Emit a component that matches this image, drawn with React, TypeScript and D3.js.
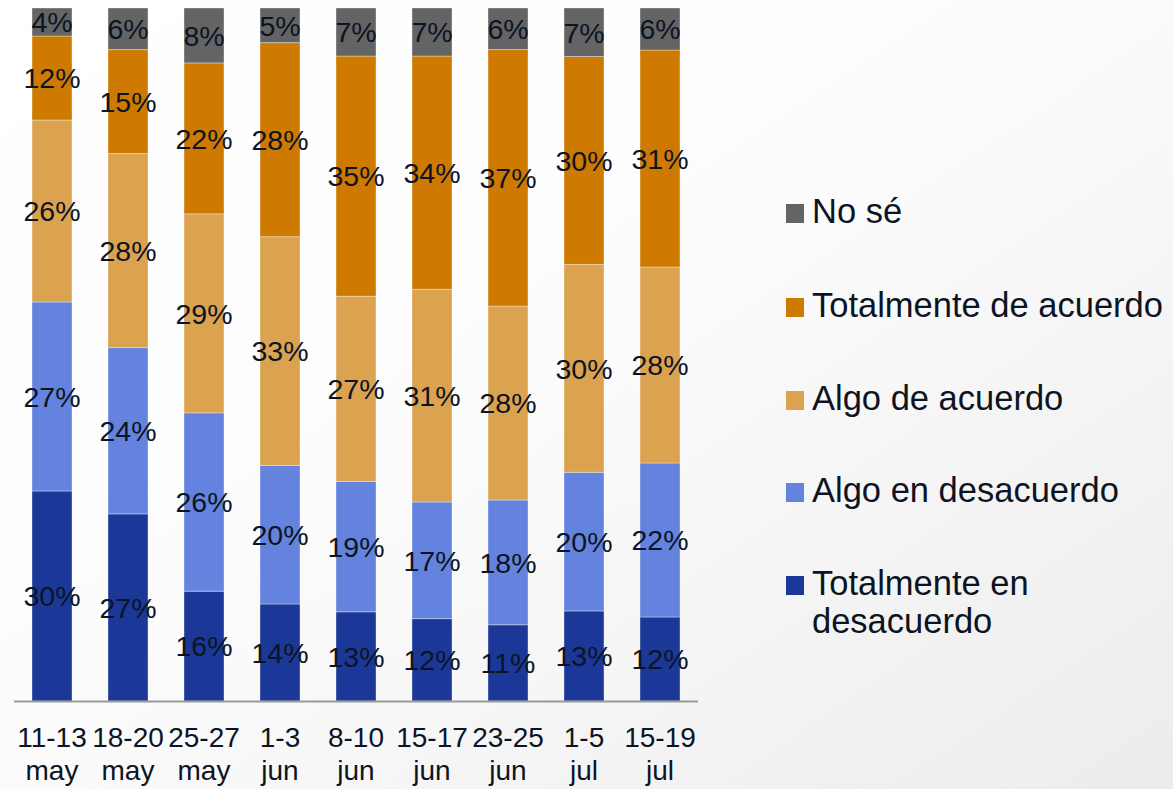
import React from "react";
import * as d3 from "d3";

const categories = ["11-13 may", "18-20 may", "25-27 may", "1-3 jun", "8-10 jun", "15-17 jun", "23-25 jun", "1-5 jul", "15-19 jul"];
const seriesNames = ["Totalmente en desacuerdo", "Algo en desacuerdo", "Algo de acuerdo", "Totalmente de acuerdo", "No sé"];
const totalDesacuerdo = [30, 27, 16, 14, 13, 12, 11, 13, 12];
const algoDesacuerdo = [27, 24, 26, 20, 19, 17, 18, 20, 22];
const algoAcuerdo = [26, 28, 29, 33, 27, 31, 28, 30, 28];
const totalAcuerdo = [12, 15, 22, 28, 35, 34, 37, 30, 31];
const noSe = [4, 6, 8, 5, 7, 7, 6, 7, 6];
const colors = ["#1B3899", "#6483DE", "#DBA24F", "#CE7A00", "#646464"];

const W = 1173, H = 789;
const FONT = "Liberation Sans, Arial, sans-serif";
const TEXT = "#0c1424";

export default function App() {
  const seriesValues = [totalDesacuerdo, algoDesacuerdo, algoAcuerdo, totalAcuerdo, noSe];
  const rows = categories.map((c, i) => {
    const r: any = { cat: c };
    seriesNames.forEach((s, k) => (r[s] = seriesValues[k][i]));
    return r;
  });
  const stack = d3.stack<any>().keys(seriesNames).offset(d3.stackOffsetExpand);
  const layers = stack(rows);

  const x = d3.scaleBand<string>().domain(categories).range([14, 698]).paddingInner(0.474).paddingOuter(0.237);
  const y = d3.scaleLinear().domain([0, 1]).range([701, 8]);

  const legendOrder = [4, 3, 2, 1, 0];
  const legendBase = [223, 317, 410, 502, 595];

  return (
    <svg width={W} height={H} style={{ position: "absolute", left: 0, top: 0, display: "block" }} fontFamily={FONT}>
      <defs>
        <linearGradient id="bg" x1="0" y1="0" x2="1" y2="1">
          <stop offset="0" stopColor="#ffffff" />
          <stop offset="0.45" stopColor="#fcfcfc" />
          <stop offset="1" stopColor="#ececec" />
        </linearGradient>
      </defs>
      <rect x={0} y={0} width={W} height={H} fill="url(#bg)" />
      {layers.map((layer, k) => (
        <g key={k}>
          {layer.map((d, i) => (
            <rect key={i} x={x(categories[i])} y={y(d[1])} width={x.bandwidth()} height={y(d[0]) - y(d[1])}
              fill={colors[k]} stroke="rgba(255,255,255,0.35)" strokeWidth={1} />
          ))}
        </g>
      ))}
      {layers.map((layer, k) => (
        <g key={"l" + k}>
          {layer.map((d, i) => (
            <text key={i} x={(x(categories[i]) as number) + x.bandwidth() / 2} y={(y(d[0]) + y(d[1])) / 2}
              dy="0.36em" textAnchor="middle" fontSize={28.5} fill={TEXT}>
              {seriesValues[k][i] + "%"}
            </text>
          ))}
        </g>
      ))}
      <line x1={14} x2={698} y1={701.5} y2={701.5} stroke="#9a9a9a" strokeWidth={2} />
      {categories.map((c, i) => {
        const [a, b] = c.split(" ");
        const cx = (x(c) as number) + x.bandwidth() / 2;
        return (
          <text key={c} x={cx} textAnchor="middle" fontSize={28} fill={TEXT}>
            <tspan x={cx} y={747}>{a}</tspan>
            <tspan x={cx} y={780}>{b}</tspan>
          </text>
        );
      })}
      {legendOrder.map((k, j) => (
        <g key={k}>
          <rect x={786} y={legendBase[j] - 19} width={18} height={19} fill={colors[k]} />
          {k === 0 ? (
            <text fontSize={34.5} fill={TEXT}>
              <tspan x={812} y={legendBase[j]}>Totalmente en</tspan>
              <tspan x={812} y={legendBase[j] + 38}>desacuerdo</tspan>
            </text>
          ) : (
            <text x={812} y={legendBase[j]} fontSize={34.5} fill={TEXT}>{seriesNames[k]}</text>
          )}
        </g>
      ))}
    </svg>
  );
}
